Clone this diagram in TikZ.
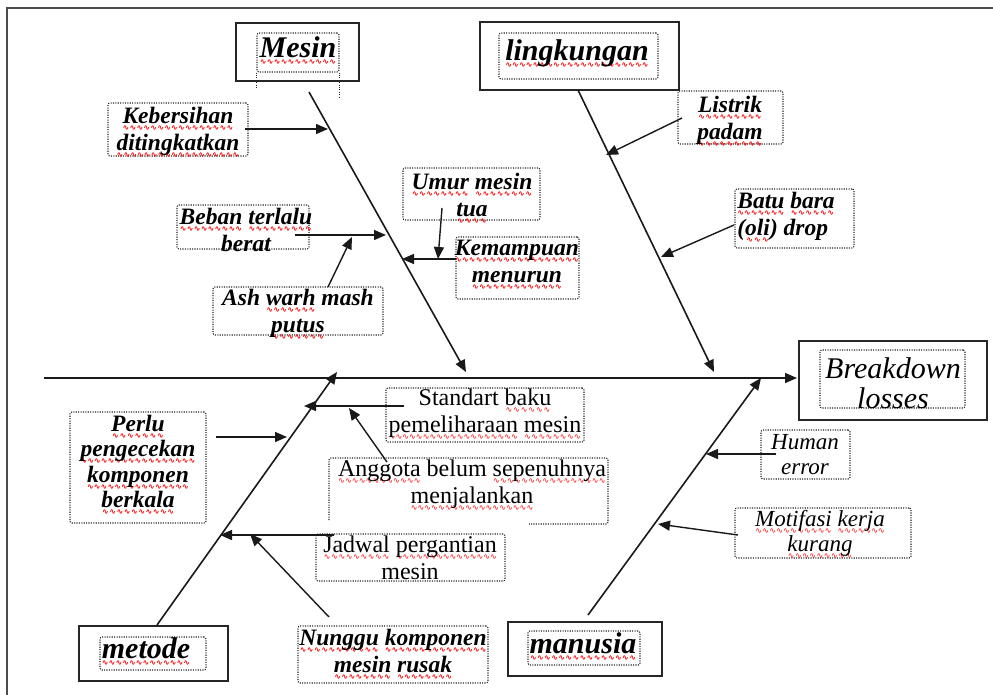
\documentclass[tikz,border=0pt]{standalone}
\usepackage{fontspec}
\setmainfont{Liberation Serif}
\newfontfamily\wavefont{DejaVu Sans}
\usetikzlibrary{arrows.meta}
\newcommand\wavepiece{\hbox{{\color{red}\fontsize{8}{8}\wavefont ∿}}}
\newcommand\rw[1]{\setbox0\hbox{#1}\rlap{\raisebox{-7pt}{\hbox to \wd0{\xleaders\wavepiece\hfil}}}\box0\relax}
\tikzset{
  solidbox/.style={draw=black!85, line width=1.8pt, inner sep=0pt},
  dotbox/.style={draw=black!85, line width=1.1pt, dash pattern=on 1.1pt off 1.3pt, rounded corners=2pt, inner sep=0pt},
  spine/.style={draw=black!85, line width=1.6pt},
  arr/.style={draw=black!90, line width=1.4pt, -{Triangle[length=12pt,width=10pt]}},
  cattext/.style={font=\fontsize{30}{34}\selectfont\bfseries\itshape, inner sep=0pt},
  bitext/.style={font=\fontsize{23.5}{27}\selectfont\bfseries\itshape, align=center, inner sep=0pt, yshift=-3pt},
  uptext/.style={font=\fontsize{24}{27}\selectfont, align=center, inner sep=0pt},
  ittext/.style={font=\fontsize{23}{25}\selectfont\itshape, align=center, inner sep=0pt},
}
\begin{document}
\begin{tikzpicture}[x=1pt,y=-1pt]
\useasboundingbox (0,0) rectangle (993,695);
% frame
\draw[line width=2pt, black!70] (7,695) -- (7,8) -- (993,8);

% category boxes
\node[solidbox, minimum width=123pt, minimum height=58pt] (mesS) at (297.5,52) {};
\node[dotbox, minimum width=82pt, minimum height=39pt] (mesD) at (298,52.5) {};
\draw[dotbox] (mesD.south west) -- ++(0,16);
\draw[dotbox] (mesD.south east) -- ++(0,26);
\node[cattext] (mesT) at (298,51) {\rw{Mesin}};

\node[solidbox, minimum width=199pt, minimum height=68pt] (linS) at (579.5,56) {};
\node[dotbox, minimum width=159pt, minimum height=46pt] (linD) at (578.5,56) {};
\node[cattext] (linT) at (577,54) {\rw{lingkungan}};

\node[solidbox, minimum width=188pt, minimum height=79pt] (bdS) at (893,380.5) {};
\node[dotbox, minimum width=145pt, minimum height=58pt] (bdD) at (892.5,379) {};
\node[font=\fontsize{30}{30}\selectfont\itshape, align=center, inner sep=0pt] (bdT) at (893,383) {Breakdown\\losses};

\node[solidbox, minimum width=149pt, minimum height=55pt] (metS) at (153.5,653.5) {};
\node[dotbox, minimum width=106pt, minimum height=33pt] (metD) at (153,653.5) {};
\node[cattext] (metT) at (146,652) {\rw{metode}};

\node[solidbox, minimum width=154pt, minimum height=54pt] (manS) at (585,649) {};
\node[dotbox, minimum width=112pt, minimum height=34pt] (manD) at (584,648) {};
\node[cattext] (manT) at (583,647) {\rw{manusia}};

% cause boxes
\node[dotbox, minimum width=140pt, minimum height=53pt] (kebD) at (178,129.5) {};
\node[bitext] (kebT) at (178,129) {\rw{Kebersihan}\\\rw{ditingkatkan}};

\node[dotbox, minimum width=132pt, minimum height=44pt] (bebD) at (243,227) {};
\node[bitext] (bebT) at (246,227) {\rw{Beban} \rw{terlalu}\\berat};

\node[dotbox, minimum width=170pt, minimum height=48pt] (ashD) at (298,311) {};
\node[bitext] (ashT) at (298,311) {Ash \rw{warh} mash\\\rw{putus}};

\node[dotbox, minimum width=137pt, minimum height=52pt] (umuD) at (471.5,194) {};
\node[bitext] (umuT) at (472,195) {\rw{Umur} \rw{mesin}\\\rw{tua}};

\node[dotbox, minimum width=123pt, minimum height=62pt] (kemD) at (517.5,268) {};
\node[bitext] (kemT) at (517,262) {\rw{Kemampuan}\\\rw{menurun}};

\node[dotbox, minimum width=105pt, minimum height=53pt] (lisD) at (730.5,117.5) {};
\node[bitext] (lisT) at (730,118) {\rw{Listrik}\\\rw{padam}};

\node[dotbox, minimum width=119pt, minimum height=59pt] (batD) at (794.5,218.5) {};
\node[bitext, align=left] (batT) at (786,214) {\rw{Batu} \rw{bara}\\(\rw{oli}) drop};

\node[dotbox, minimum width=136pt, minimum height=111pt] (perD) at (138,467.5) {};
\node[bitext, font=\fontsize{23.5}{25.5}\selectfont\bfseries\itshape] (perT) at (138,462) {\rw{Perlu}\\\rw{pengecekan}\\\rw{komponen}\\\rw{berkala}};

\node[dotbox, minimum width=198pt, minimum height=54pt] (staD) at (485,415) {};
\node[uptext] (staT) at (485,414) {Standart \rw{baku}\\\rw{pemeliharaan} \rw{mesin}};

\coordinate (angC) at (468.5,491);
\draw[dotbox] (329,520) -- (329,458) -- (608,458) -- (608,524) -- (529,524);
\node[uptext] (angT) at (472,485) {\rw{Anggota} belum \rw{sepenuhnya}\\\rw{menjalankan}};

\node[dotbox, minimum width=189pt, minimum height=47pt] (jadD) at (410.5,557.5) {};
\node[uptext] (jadT) at (410,558) {\rw{Jadwal} \rw{pergantian}\\mesin};

\node[dotbox, minimum width=190pt, minimum height=57pt] (nunD) at (393,654.5) {};
\node[bitext] (nunT) at (393,651) {\rw{Nunggu} \rw{komponen}\\\rw{mesin} \rw{rusak}};

\node[dotbox, minimum width=89pt, minimum height=49pt] (humD) at (805.5,454.5) {};
\node[ittext] (humT) at (805,455) {Human\\error};

\node[dotbox, minimum width=176pt, minimum height=50pt] (motD) at (823,533) {};
\node[ittext] (motT) at (820,534) {\rw{Motifasi} \rw{kerja}\\\rw{kurang}};

% spine coordinates
\coordinate (hs) at (44,378);
\coordinate (he) at (797,378);
\coordinate (ms) at (309,92);
\coordinate (me) at (466,372);
\coordinate (ls) at (578,90);
\coordinate (le) at (714,372);
\coordinate (ts) at (157,625);
\coordinate (te) at (337,372);
\coordinate (us) at (588,615);
\coordinate (ue) at (761,378);

\draw[spine, arr, line width=1.6pt] (hs) -- (he);
\draw[spine, arr, line width=1.6pt] (ms) -- (me);
\draw[spine, arr, line width=1.6pt] (ls) -- (le);
\draw[spine, arr, line width=1.6pt] (ts) -- (te);
\draw[spine, arr, line width=1.6pt] (us) -- (ue);

% cause arrows
\coordinate (k1) at (245,129);  \coordinate (k2) at (328,129);
\coordinate (b1) at (295,235);  \coordinate (b2) at (386,235);
\coordinate (a1) at (328,287);  \coordinate (a2) at (352,237);
\coordinate (u1) at (442,208);  \coordinate (u2) at (438,259);
\coordinate (m1) at (456,259);  \coordinate (m2) at (402,259);
\coordinate (l1) at (682,118);  \coordinate (l2) at (606,155);
\coordinate (t1) at (734,225);  \coordinate (t2) at (661,257);
\coordinate (p1) at (216,437);  \coordinate (p2) at (287,437);
\coordinate (s1) at (404,406);  \coordinate (s2) at (304,406);
\coordinate (g1) at (387,462);  \coordinate (g2) at (349,408);
\coordinate (j1) at (334,535);  \coordinate (j2) at (220,535);
\coordinate (n1) at (329,617);  \coordinate (n2) at (250,534);
\coordinate (h1) at (776,454);  \coordinate (h2) at (706,454);
\coordinate (o1) at (738,535);  \coordinate (o2) at (658,524);

\foreach \a/\b in {k1/k2,b1/b2,a1/a2,u1/u2,m1/m2,l1/l2,t1/t2,p1/p2,s1/s2,g1/g2,j1/j2,n1/n2,h1/h2,o1/o2}
  \draw[arr] (\a) -- (\b);
\end{tikzpicture}
\end{document}
